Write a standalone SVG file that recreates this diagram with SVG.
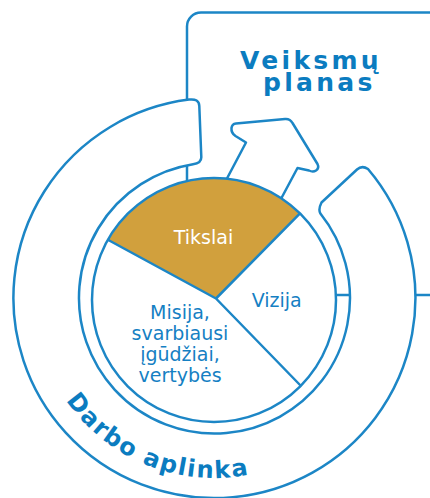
<svg xmlns="http://www.w3.org/2000/svg" width="430" height="498" viewBox="0 0 430 498">
  <style>
    .ln { stroke: #1C86C6; stroke-width: 2.5; fill: #FFFFFF; stroke-linejoin: round; }
    .nofill { fill: none; }
    .lbl { font-family: "DejaVu Sans", Verdana, sans-serif; font-size: 19px; fill: #1580C3; text-anchor: middle; }
    .ttl { font-family: "DejaVu Sans", Verdana, sans-serif; font-size: 25px; font-weight: bold; fill: #0B7CC0; letter-spacing: 3.3px; }
  </style>
  <defs>
    <path id="curve" d="M 34.1 292 A 180 180 0 0 0 348 418.2"/>
  </defs>
  <rect width="430" height="498" fill="#FFFFFF"/>

  <g id="action-plan">
    <rect class="ln" x="187" y="12.5" width="300" height="282.5" rx="14" ry="14"/>
    <text class="ttl" x="240" y="68.5">Veiksmų</text>
    <text class="ttl" x="263" y="90.5">planas</text>
  </g>

  <g id="work-environment">
    <path class="ln" d="M 189 99.6 Q 199 98.3 199.3 106 L 201.3 157 Q 201.5 163.3 193 164.2 A 135.5 135.5 0 1 0 320.4 213.5 Q 318 209.5 321.5 202.5 L 357 169.5 Q 362 165 368 169 A 201 200 0 1 1 189 99.6 Z"/>
    <text class="ttl" style="letter-spacing:1.6px;font-size:24px"><textPath href="#curve" startOffset="50%" text-anchor="middle">Darbo aplinka</textPath></text>
  </g>

  <g id="connectors">
    <path class="ln" d="M 222 188 L 227.5 177.5 L 246 142.5 L 235.5 136 Q 231 133 231.5 128 Q 232 124 236 123.5 L 285 119 Q 290 118.5 292.5 123 L 317.5 164 Q 319.5 168 316 170.5 Q 313 172.5 309 170.5 L 297.5 168 L 282 197 L 276 208 Z"/>
  </g>

  <g id="pie">
    <circle cx="214" cy="300" r="122" fill="#FFFFFF"/>
    <g id="goals">
      <path d="M 216 298.5 L 108.3 240 A 122 122 0 0 1 300 213.3 Z" fill="#D1A03D"/>
      <text class="lbl" x="203.5" y="244" style="fill:#FFFFFF">Tikslai</text>
    </g>
    <g id="vision">
      <text class="lbl" x="276.7" y="306.7">Vizija</text>
    </g>
    <g id="mission">
      <text class="lbl" x="180" y="318.5">Misija,</text>
      <text class="lbl" x="180" y="340">svarbiausi</text>
      <text class="lbl" x="180" y="361">įgūdžiai,</text>
      <text class="lbl" x="180" y="382">vertybės</text>
    </g>
    <path class="ln nofill" d="M 108.3 240 L 216 298.5 L 300 213.3 M 216 298.5 L 301 386"/>
    <circle class="ln nofill" cx="214" cy="300" r="122"/>
  </g>
</svg>
